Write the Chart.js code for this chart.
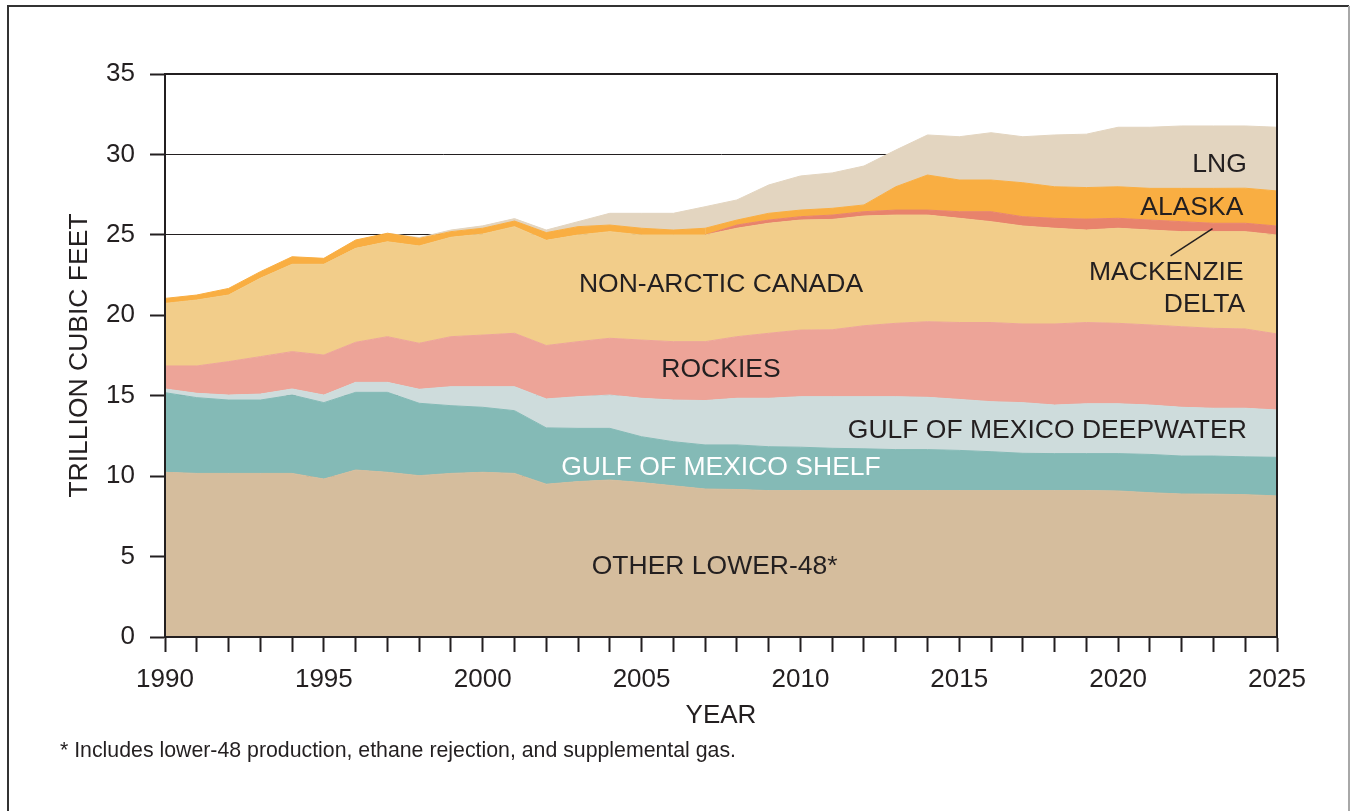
<!DOCTYPE html>
<html>
<head>
<meta charset="utf-8">
<script src="https://cdn.jsdelivr.net/npm/chart.js@4.4.1/dist/chart.umd.min.js"></script>
<style>
  html, body { margin: 0; padding: 0; background: #fff; }
  #wrap { position: relative; width: 1351px; height: 811px; }
</style>
</head>
<body>
<div id="wrap"><canvas id="gas" width="1351" height="811"></canvas></div>
<script>
// Natural gas supply by source, trillion cubic feet, stacked
const years = [
  1990, 1991, 1992, 1993, 1994, 1995, 1996, 1997, 1998, 1999,
  2000, 2001, 2002, 2003, 2004, 2005, 2006, 2007, 2008, 2009,
  2010, 2011, 2012, 2013, 2014, 2015, 2016, 2017, 2018, 2019,
  2020, 2021, 2022, 2023, 2024, 2025
];
const otherLower48 = [
  10.24, 10.17, 10.17, 10.17, 10.17, 9.82, 10.38, 10.24, 10.03, 10.17,
  10.24, 10.17, 9.50, 9.66, 9.76, 9.60, 9.40, 9.20, 9.17, 9.10,
  9.10, 9.10, 9.10, 9.10, 9.10, 9.10, 9.10, 9.10, 9.10, 9.10,
  9.08, 8.97, 8.89, 8.88, 8.85, 8.77
];
const gomShelf = [
  4.95, 4.71, 4.56, 4.56, 4.87, 4.75, 4.83, 4.97, 4.50, 4.21,
  4.04, 3.90, 3.50, 3.31, 3.21, 2.85, 2.74, 2.74, 2.77, 2.73,
  2.70, 2.63, 2.60, 2.55, 2.55, 2.50, 2.42, 2.32, 2.30, 2.30,
  2.32, 2.38, 2.36, 2.37, 2.35, 2.40
];
const gomDeepwater = [
  0.23, 0.27, 0.31, 0.37, 0.38, 0.47, 0.62, 0.62, 0.87, 1.18,
  1.28, 1.49, 1.80, 1.97, 2.07, 2.39, 2.59, 2.76, 2.90, 3.01,
  3.14, 3.21, 3.24, 3.29, 3.25, 3.17, 3.11, 3.15, 3.02, 3.10,
  3.10, 3.07, 3.03, 2.97, 3.02, 2.94
];
const rockies = [
  1.43, 1.70, 2.08, 2.33, 2.32, 2.49, 2.49, 2.84, 2.86, 3.11,
  3.21, 3.32, 3.32, 3.42, 3.53, 3.62, 3.63, 3.66, 3.83, 4.04,
  4.14, 4.16, 4.41, 4.56, 4.70, 4.78, 4.92, 4.89, 5.04, 5.05,
  5.00, 4.98, 5.01, 4.97, 4.93, 4.73
];
const nonArcticCanada = [
  3.89, 4.10, 4.14, 4.87, 5.43, 5.64, 5.84, 5.90, 6.05, 6.18,
  6.28, 6.63, 6.54, 6.63, 6.63, 6.53, 6.63, 6.63, 6.74, 6.84,
  6.84, 6.86, 6.82, 6.73, 6.63, 6.48, 6.27, 6.09, 5.95, 5.75,
  5.91, 5.90, 5.91, 6.01, 6.05, 6.15
];
const mackenzieDelta = [
  0, 0, 0, 0, 0, 0, 0, 0, 0, 0,
  0, 0, 0, 0, 0, 0, 0, 0, 0.20, 0.20,
  0.21, 0.27, 0.27, 0.31, 0.31, 0.41, 0.62, 0.58, 0.62, 0.68,
  0.62, 0.62, 0.62, 0.52, 0.52, 0.56
];
const alaska = [
  0.31, 0.31, 0.41, 0.41, 0.47, 0.37, 0.52, 0.53, 0.47, 0.35,
  0.36, 0.35, 0.48, 0.52, 0.41, 0.42, 0.31, 0.42, 0.31, 0.42,
  0.41, 0.42, 0.42, 1.45, 2.18, 1.97, 1.97, 2.11, 1.96, 1.96,
  1.96, 1.97, 2.07, 2.17, 2.18, 2.18
];
const lng = [
  0, 0, 0, 0, 0, 0, 0, 0, 0.05, 0.10,
  0.15, 0.15, 0.16, 0.31, 0.73, 0.93, 1.04, 1.34, 1.25, 1.76,
  2.12, 2.20, 2.42, 2.28, 2.49, 2.69, 2.94, 2.86, 3.22, 3.32,
  3.70, 3.80, 3.88, 3.88, 3.87, 3.96
];
const yTicks = [0, 5, 10, 15, 20, 25, 30, 35];

const ink = '#231f20';
const font = '"Liberation Sans", Arial, Helvetica, sans-serif';

const series = [
  { name: 'Other lower-48', values: otherLower48, color: '#d5bd9d' },
  { name: 'Gulf of Mexico shelf', values: gomShelf, color: '#84bab6' },
  { name: 'Gulf of Mexico deepwater', values: gomDeepwater, color: '#cedcdc' },
  { name: 'Rockies', values: rockies, color: '#eda498' },
  { name: 'Non-Arctic Canada', values: nonArcticCanada, color: '#f2cd8a' },
  { name: 'Mackenzie Delta', values: mackenzieDelta, color: '#e8836c' },
  { name: 'Alaska', values: alaska, color: '#f9ae42' },
  { name: 'LNG', values: lng, color: '#e3d5c0' }
];

// in-chart labels, placed in data units (year, tcf)
const areaLabels = [
  { text: 'OTHER LOWER-48*', x: 2007.3, y: 4.36, align: 'center', color: ink },
  { text: 'GULF OF MEXICO SHELF', x: 2007.5, y: 10.51, align: 'center', color: '#ffffff' },
  { text: 'GULF OF MEXICO DEEPWATER', x: 2024.05, y: 12.81, align: 'right', color: ink },
  { text: 'ROCKIES', x: 2007.5, y: 16.60, align: 'center', color: ink },
  { text: 'NON-ARCTIC CANADA', x: 2007.5, y: 21.88, align: 'center', color: ink },
  { text: 'MACKENZIE', x: 2023.95, y: 22.65, align: 'right', color: ink },
  { text: 'DELTA', x: 2024.0, y: 20.66, align: 'right', color: ink },
  { text: 'ALASKA', x: 2023.94, y: 26.67, align: 'right', color: ink },
  { text: 'LNG', x: 2024.05, y: 29.37, align: 'right', color: ink }
];
const leader = { from: [2021.65, 23.69], to: [2022.97, 25.38] };
const footnote = '* Includes lower-48 production, ethane rejection, and supplemental gas.';

const datasets = series.map((s, i) => ({
  label: s.name,
  data: years.map((yr, k) => ({ x: yr, y: s.values[k] })),
  backgroundColor: s.color,
  borderColor: s.color,
  borderWidth: 1,
  pointRadius: 0,
  tension: 0,
  fill: i === 0 ? 'origin' : '-1',
  segment: {
    // skip the edge stroke where the band has zero thickness
    borderColor: ctx => (s.values[ctx.p0DataIndex] === 0 && s.values[ctx.p1DataIndex] === 0) ? 'transparent' : s.color
  }
}));

const decorations = {
  id: 'decorations',
  afterDatasetsDraw(chart) {
    const { ctx, chartArea: a, scales: { x, y } } = chart;
    ctx.save();

    // plot frame
    ctx.strokeStyle = ink;
    ctx.lineWidth = 2;
    ctx.strokeRect(a.left, a.top, a.right - a.left, a.bottom - a.top);

    // band labels
    ctx.font = `26.5px ${font}`;
    ctx.textBaseline = 'middle';
    for (const l of areaLabels) {
      ctx.fillStyle = l.color;
      ctx.textAlign = l.align;
      ctx.fillText(l.text, x.getPixelForValue(l.x), y.getPixelForValue(l.y));
    }

    // leader to the Mackenzie band
    ctx.strokeStyle = ink;
    ctx.lineWidth = 1.5;
    ctx.beginPath();
    ctx.moveTo(x.getPixelForValue(leader.from[0]), y.getPixelForValue(leader.from[1]));
    ctx.lineTo(x.getPixelForValue(leader.to[0]), y.getPixelForValue(leader.to[1]));
    ctx.stroke();

    // footnote
    ctx.font = `21.3px ${font}`;
    ctx.textAlign = 'left';
    ctx.fillStyle = ink;
    ctx.fillText(footnote, 60, 751);

    // outer border
    ctx.lineWidth = 2;
    ctx.strokeStyle = '#333';
    ctx.beginPath();
    ctx.moveTo(8, 830);
    ctx.lineTo(8, 6);
    ctx.lineTo(1349, 6);
    ctx.stroke();
    ctx.strokeStyle = '#a8a8a8';
    ctx.beginPath();
    ctx.moveTo(1349, 6);
    ctx.lineTo(1349, 830);
    ctx.stroke();

    ctx.restore();
  }
};

new Chart(document.getElementById('gas'), {
  type: 'line',
  data: { datasets },
  plugins: [decorations],
  options: {
    responsive: false,
    animation: false,
    events: [],
    layout: { padding: { top: 74, right: 74, left: 0, bottom: 0 } },
    plugins: { legend: { display: false }, tooltip: { enabled: false } },
    scales: {
      x: {
        type: 'linear',
        min: years[0],
        max: years[years.length - 1],
        afterFit: s => { s.height = 174; },
        afterBuildTicks: s => { s.ticks = years.map(v => ({ value: v })); },
        ticks: {
          autoSkip: false,
          maxRotation: 0,
          padding: 12,
          color: ink,
          font: { family: font, size: 26 },
          callback: v => (v % 5 === 0 ? String(v) : '')
        },
        grid: { drawOnChartArea: false, drawTicks: true, tickLength: 15, tickWidth: 2, tickColor: ink },
        border: { color: ink, width: 2 },
        title: {
          display: true,
          text: 'YEAR',
          color: ink,
          font: { family: font, size: 26 },
          padding: { top: 0, bottom: 80 }
        }
      },
      y: {
        stacked: true,
        min: 0,
        max: 35,
        afterFit: s => { s.width = 165; },
        afterBuildTicks: s => { s.ticks = yTicks.map(v => ({ value: v })); },
        ticks: {
          padding: 15,
          color: ink,
          font: { family: font, size: 26 }
        },
        grid: { color: ink, lineWidth: 1, tickLength: 15, tickWidth: 2, tickColor: ink },
        border: { color: ink, width: 2 },
        title: {
          display: true,
          text: 'TRILLION CUBIC FEET',
          color: ink,
          font: { family: font, size: 26.5 },
          padding: { top: 64, bottom: 0 }
        }
      }
    }
  }
});
</script>
</body>
</html>
